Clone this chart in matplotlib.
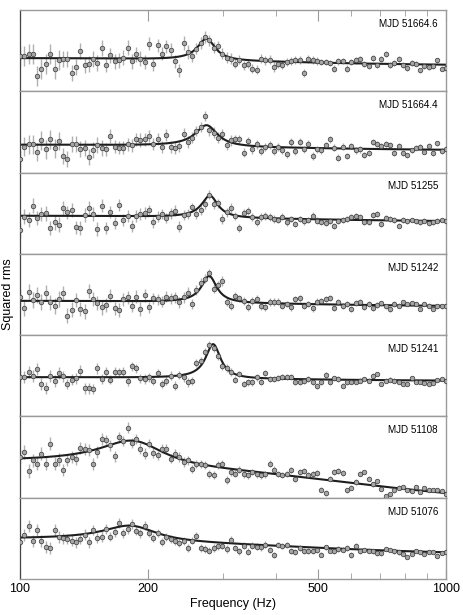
import numpy as np
import matplotlib
matplotlib.use('Agg')
import matplotlib.pyplot as plt
from matplotlib.ticker import FixedLocator, FixedFormatter, NullFormatter

plt.rcParams['font.family'] = ['Liberation Sans', 'DejaVu Sans']

# frequency bins (Hz)
freq = [100.0, 102.4, 104.8, 107.2, 109.8, 112.3, 115.0, 117.7, 120.5, 123.3,
        126.2, 129.2, 132.2, 135.3, 138.5, 141.8, 145.1, 148.5, 152.0, 155.6,
        159.2, 163.0, 166.8, 170.8, 174.8, 178.9, 183.1, 187.4, 191.8, 196.3,
        201.0, 205.7, 210.5, 215.5, 220.6, 225.7, 231.1, 236.5, 242.1, 247.8,
        253.6, 259.6, 265.7, 271.9, 278.3, 284.8, 291.5, 298.4, 305.4, 312.6,
        319.9, 327.5, 335.2, 343.0, 351.1, 359.4, 367.8, 376.5, 385.3, 394.4,
        403.7, 413.2, 422.9, 432.9, 443.1, 453.5, 464.2, 475.1, 486.3, 497.7,
        509.4, 521.4, 533.7, 546.2, 559.1, 572.2, 585.7, 599.5, 613.6, 628.0,
        642.8, 657.9, 673.4, 689.3, 705.5, 722.1, 739.1, 756.5, 774.3, 792.5,
        811.1, 830.2, 849.8, 869.8, 890.2, 911.2, 932.6, 954.6, 977.0, 1000.0]

labels = ['MJD 51664.6', 'MJD 51664.4', 'MJD 51255', 'MJD 51242',
          'MJD 51241', 'MJD 51108', 'MJD 51076']

# squared rms, arbitrary units (each panel spans 0..244)
rms_51664_6 = [105, 105, 111, 113, 45, 66, 83, 113, 68, 93,
               98, 98, 55, 73, 121, 78, 83, 98, 85, 131,
               80, 108, 90, 93, 101, 131, 90, 111, 98, 88,
               143, 81, 138, 113, 135, 125, 90, 63, 145, 118,
               105, 128, 145, 163, 153, 131, 135, 113, 101, 98,
               83, 95, 78, 83, 68, 65, 98, 93, 95, 73,
               83, 80, 88, 90, 93, 95, 55, 98, 95, 90,
               88, 88, 85, 68, 90, 91, 68, 88, 93, 96,
               83, 75, 101, 78, 98, 111, 78, 85, 98, 80,
               70, 85, 83, 63, 75, 73, 75, 93, 68, 70]
rms_51664_4 = [40, 78, 85, 85, 62, 97, 70, 100, 73, 95,
               50, 40, 85, 87, 70, 73, 47, 67, 83, 73,
               70, 110, 78, 75, 75, 85, 82, 100, 98, 100,
               110, 87, 100, 77, 112, 78, 73, 80, 115, 93,
               105, 125, 137, 170, 127, 120, 105, 115, 83, 97,
               100, 100, 60, 95, 70, 85, 65, 77, 83, 65,
               77, 67, 55, 92, 65, 93, 70, 87, 50, 70,
               67, 83, 100, 75, 45, 78, 50, 80, 67, 70,
               52, 60, 92, 85, 80, 85, 83, 58, 80, 58,
               52, 67, 75, 77, 63, 80, 58, 88, 65, 70]
rms_51255 = [72, 112, 103, 145, 108, 120, 122, 78, 95, 88,
             138, 125, 132, 80, 78, 117, 138, 120, 75, 145,
             78, 125, 92, 148, 102, 115, 85, 113, 120, 122,
             132, 95, 112, 120, 108, 122, 130, 82, 117, 120,
             140, 120, 132, 150, 178, 150, 152, 105, 125, 138,
             115, 78, 122, 130, 112, 95, 112, 115, 112, 105,
             102, 112, 95, 105, 90, 105, 98, 102, 115, 100,
             97, 93, 98, 85, 100, 102, 105, 110, 115, 112,
             95, 95, 117, 120, 90, 108, 105, 102, 85, 102,
             98, 102, 98, 95, 100, 92, 95, 100, 102, 100]
rms_51242 = [113, 80, 131, 106, 120, 100, 128, 98, 86, 108,
             126, 58, 76, 106, 78, 71, 133, 108, 96, 83,
             90, 118, 80, 75, 108, 113, 88, 115, 78, 120,
             83, 110, 108, 100, 115, 110, 113, 98, 113, 128,
             93, 136, 158, 170, 186, 140, 150, 163, 100, 88,
             118, 110, 103, 83, 103, 108, 88, 83, 98, 100,
             100, 88, 93, 83, 108, 110, 88, 93, 80, 100,
             103, 108, 110, 80, 98, 86, 93, 78, 96, 98,
             83, 93, 80, 90, 95, 86, 78, 93, 88, 98,
             93, 96, 93, 78, 93, 88, 78, 86, 86, 88]
rms_51241 = [117, 117, 134, 120, 142, 97, 84, 122, 107, 129,
             120, 97, 110, 114, 137, 84, 84, 82, 144, 112,
             134, 110, 134, 132, 134, 105, 150, 144, 114, 112,
             117, 107, 130, 97, 107, 122, 92, 124, 117, 102,
             107, 160, 167, 192, 214, 204, 182, 152, 144, 132,
             110, 127, 97, 102, 102, 117, 104, 130, 112, 112,
             114, 119, 117, 117, 102, 104, 107, 112, 102, 92,
             102, 124, 102, 114, 112, 92, 102, 104, 104, 107,
             112, 107, 122, 127, 97, 107, 110, 107, 104, 97,
             97, 114, 102, 104, 100, 97, 100, 110, 112, 107]
rms_51108 = [122, 137, 80, 112, 102, 132, 102, 162, 102, 114,
             84, 112, 122, 117, 149, 147, 144, 102, 137, 177,
             172, 157, 124, 182, 170, 210, 164, 176, 147, 132,
             162, 134, 127, 147, 147, 117, 132, 122, 107, 112,
             87, 102, 102, 99, 72, 67, 97, 102, 52, 77,
             72, 84, 70, 67, 77, 70, 67, 70, 102, 84,
             72, 67, 70, 82, 57, 77, 80, 67, 72, 74,
             24, 14, 57, 77, 80, 74, 22, 30, 47, 72,
             77, 57, 40, 50, 27, 4, 10, 22, 30, 32,
             24, 20, 32, 17, 30, 22, 24, 22, 20, 12]
rms_51076 = [110, 132, 160, 115, 147, 113, 97, 93, 147, 125,
             122, 120, 115, 110, 120, 133, 110, 147, 123, 127,
             150, 127, 140, 168, 137, 150, 165, 145, 137, 160,
             137, 122, 137, 110, 127, 120, 115, 107, 113, 93,
             115, 130, 93, 90, 85, 93, 98, 100, 90, 118,
             93, 83, 100, 82, 100, 97, 95, 103, 87, 72,
             103, 100, 102, 85, 80, 93, 85, 83, 85, 87,
             73, 95, 85, 83, 90, 88, 93, 72, 100, 83,
             87, 85, 83, 77, 77, 90, 87, 83, 80, 75,
             67, 75, 83, 80, 75, 82, 80, 68, 77, 80]

# 1-sigma errors, one value per block of ten bins
err_51664_6 = [30, 24, 22, 20, 17, 14, 12, 10, 9, 8]
err_51664_4 = [28, 24, 20, 18, 16, 13, 11, 10, 9, 8]
err_51255 = [22, 20, 18, 16, 14, 12, 10, 9, 8, 7]
err_51242 = [24, 22, 20, 17, 14, 12, 10, 9, 8, 7]
err_51241 = [18, 16, 14, 13, 12, 10, 9, 8, 7, 6]
err_51108 = [20, 18, 16, 14, 12, 10, 9, 8, 7, 6]
err_51076 = [18, 16, 14, 12, 11, 10, 9, 8, 7, 6]

rms = [rms_51664_6, rms_51664_4, rms_51255, rms_51242, rms_51241, rms_51108, rms_51076]
errs = [err_51664_6, err_51664_4, err_51255, err_51242, err_51241, err_51108, err_51076]

# best fit: constant + zero-centred lorentzian + QPO lorentzian
cont_c = [76.5, 66, 96, 85.5, 106, -19.7, 72]
cont_a = [24, 18, 19, 18, 12, 127, 48]
cont_f0 = [400, 400, 400, 400, 400, 600, 450]
qpo_amp = [65, 64, 66, 80, 103, 75, 47]
qpo_fc = [274, 274, 279, 278, 284, 183, 181]
qpo_fwhm = [32, 40, 30, 28, 28, 80, 66]


def fit_model(f, i):
    cont = cont_c[i] + cont_a[i] / (1. + (f / cont_f0[i])**2)
    qpo = qpo_amp[i] / (1. + ((f - qpo_fc[i]) / (qpo_fwhm[i] / 2.))**2)
    return cont + qpo


fig, axes = plt.subplots(7, 1, figsize=(4.63, 6.15), dpi=100, sharex=True)
fig.subplots_adjust(left=20/463, right=446/463, bottom=36/615, top=605/615, hspace=0)

ff = np.geomspace(100, 1000, 600)
for i, ax in enumerate(axes):
    y = np.array(rms[i], dtype=float)
    e = np.repeat(errs[i], 10)
    ax.errorbar(freq, y, yerr=e, fmt='none', ecolor='#b0b0b0',
                elinewidth=1.0, capsize=0, zorder=1)
    ax.plot(ff, fit_model(ff, i), color='#1e1e1e', lw=1.5, zorder=2)
    ax.plot(freq, y, 'o', ms=3.3, mfc='#a6a6a6', mec='#3a3a3a', mew=0.5, zorder=3)

    ax.set_xscale('log')
    ax.set_xlim(100, 1000)
    ax.set_ylim(0, 244)
    ax.set_yticks([])
    for s in ['top', 'bottom', 'right']:
        ax.spines[s].set_color('#9a9a9a')
        ax.spines[s].set_linewidth(1.0)
    ax.spines['left'].set_color('#444444')
    ax.spines['left'].set_linewidth(0.9)

    ax.text(0.981, 0.83, labels[i], transform=ax.transAxes,
            ha='right', va='center', fontsize=7.1)

    ax.tick_params(axis='x', which='both', top=False, bottom=False,
                   labelbottom=False, direction='in', color='#9a9a9a')

ax0 = axes[-1]
ax0.xaxis.set_major_locator(FixedLocator([100, 200, 500, 1000]))
ax0.xaxis.set_major_formatter(FixedFormatter(['100', '200', '500', '1000']))
ax0.xaxis.set_minor_locator(FixedLocator([300, 400, 600, 700, 800, 900]))
ax0.xaxis.set_minor_formatter(NullFormatter())

axes[0].tick_params(axis='x', which='both', top=True)
axes[0].tick_params(axis='x', which='major', length=8)
axes[0].tick_params(axis='x', which='minor', length=4)
axes[-1].tick_params(axis='x', which='both', bottom=True, labelbottom=True,
                     labelsize=9, pad=3)
axes[-1].tick_params(axis='x', which='major', length=7)
axes[-1].tick_params(axis='x', which='minor', length=4)

axes[-1].set_xlabel('Frequency (Hz)', fontsize=9, labelpad=2)
fig.text(8/463, 1 - 294/615, 'Squared rms', rotation=90,
         ha='center', va='center', fontsize=9)

fig.savefig('out.png', dpi=100)
